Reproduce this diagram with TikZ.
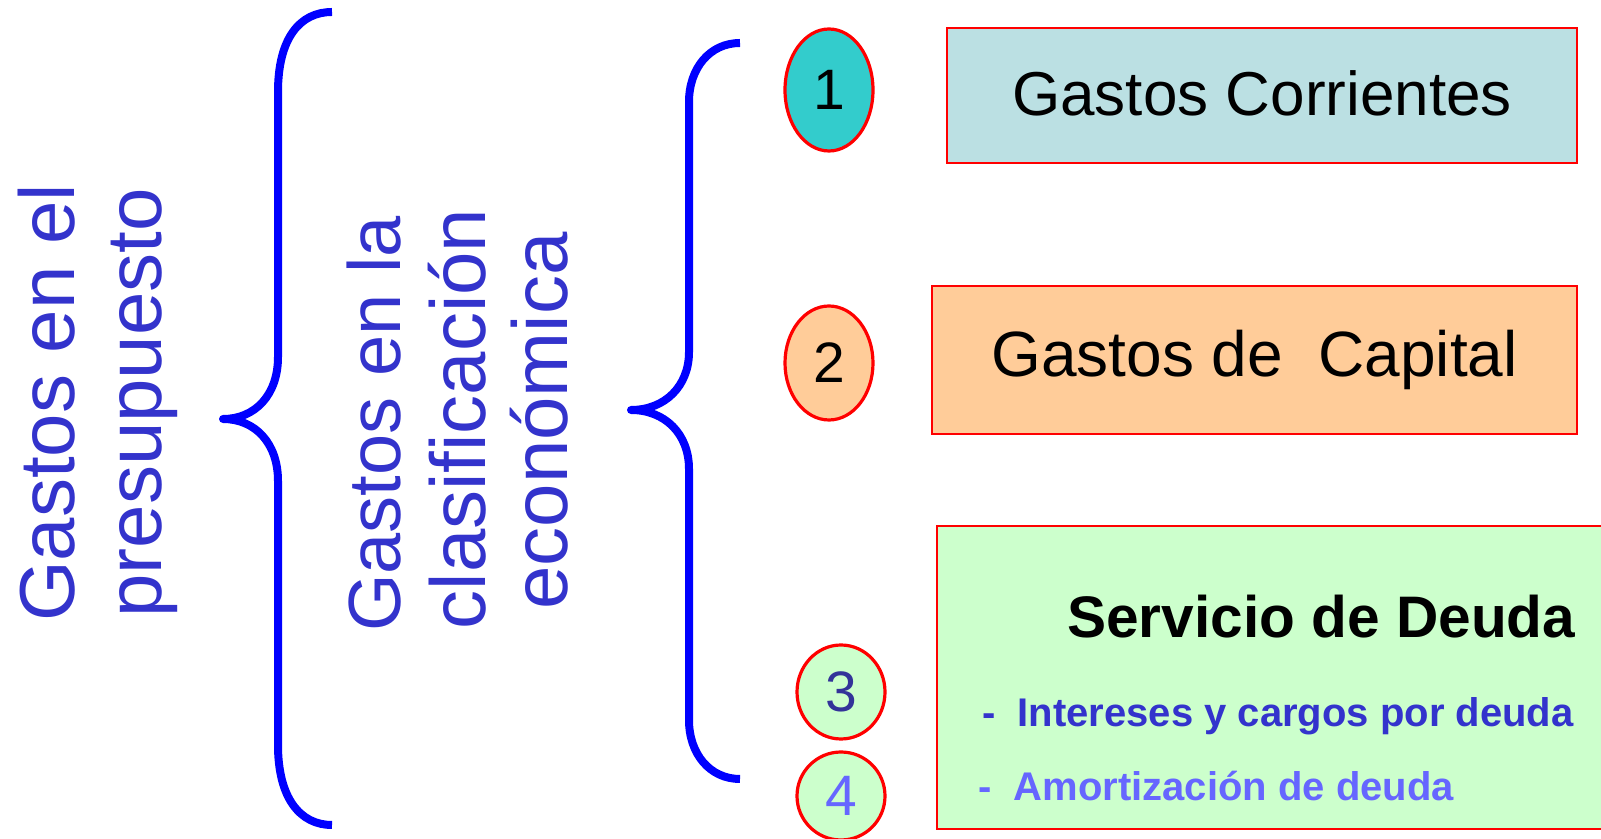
\documentclass[tikz,border=0pt]{standalone}
\usepackage{fontspec}
\setmainfont{Liberation Sans}
\usetikzlibrary{shapes.geometric}
\definecolor{txtblue}{HTML}{3333CC}
\definecolor{brblue}{HTML}{0000FF}
\definecolor{boxcyan}{HTML}{BBE0E3}
\definecolor{boxorange}{HTML}{FFCC99}
\definecolor{boxgreen}{HTML}{CCFFCC}
\definecolor{ellcyan}{HTML}{33CCCC}
\definecolor{darkblue}{HTML}{333399}
\definecolor{lightblue}{HTML}{6666FF}
\begin{document}
\begin{tikzpicture}[x=1pt,y=1pt,
  vtext/.style={rotate=90,anchor=base,inner sep=0,text=txtblue,font=\fontsize{78}{88}\selectfont},
  brace/.style={draw=brblue,line width=8pt,line join=round},
  numell/.style={ellipse,draw=red,line width=3.2pt,minimum width=88pt,inner sep=0,font=\fontsize{57}{60}\selectfont},
  catbox/.style={rectangle,draw=red,line width=2pt,inner sep=0}]
\useasboundingbox (0,0) rectangle (1601,838);
\clip (0,0) rectangle (1601,838);
% left texts
\node[vtext] (t1) at (74,435) {Gastos en el};
\node[vtext] (t2) at (161,435) {presupuesto};
% middle texts
\node[vtext,font=\fontsize{74}{84}\selectfont] (m1) at (400,414) {Gastos en la};
\node[vtext] (m2) at (485,419) {clasificación};
\node[vtext] (m3) at (567,417) {económica};
% brace 1
\draw[brace] (332,826) .. controls (300,826) and (278,800) .. (278,746)
  -- (278,481) .. controls (278,443) and (255,419) .. (223,419)
  .. controls (255,419) and (278,395) .. (278,357)
  -- (278,93) .. controls (278,40) and (300,13) .. (332,13);
% brace 2
\draw[brace] (740,795) .. controls (710,795) and (689,770) .. (689,736)
  -- (689,486) .. controls (689,452) and (665,428) .. (631,428)
  .. controls (665,428) and (689,404) .. (689,369)
  -- (689,118) .. controls (689,84) and (710,59) .. (740,59);
% ellipses
\node[numell,fill=ellcyan,minimum height=122pt] (e1) at (829,748) {1};
\node[numell,fill=boxorange,minimum height=114pt] (e2) at (829,475) {2};
\node[numell,fill=boxgreen,minimum height=94pt,text=darkblue] (e3) at (841,146) {3};
\node[numell,fill=boxgreen,minimum height=88pt,text=lightblue] (e4) at (841,42) {4};
% boxes
\node[catbox,fill=boxcyan,minimum width=630pt,minimum height=135pt,font=\fontsize{62}{70}\selectfont] (b1) at (1262,742.5) {\raisebox{5pt}{Gastos Corrientes}};
\node[catbox,fill=boxorange,minimum width=645pt,minimum height=148pt,font=\fontsize{64}{72}\selectfont] (b2) at (1254.5,478) {Gastos de~ Capital};
\node[catbox,fill=boxgreen,minimum width=680pt,minimum height=303pt] (b3) at (1277,160.5) {};
\node[anchor=base west,inner sep=0,font=\fontsize{58.6}{64}\selectfont\bfseries] (s0) at (1067,200) {Servicio de Deuda};
\node[anchor=base west,inner sep=0,text=txtblue,font=\fontsize{40}{46}\selectfont\bfseries] (s1) at (982,111) {-\ \ Intereses y cargos por deuda};
\node[anchor=base west,inner sep=0,text=lightblue,font=\fontsize{40}{46}\selectfont\bfseries] (s2) at (978,37) {-\ \ Amortización de deuda};
\end{tikzpicture}
\end{document}
